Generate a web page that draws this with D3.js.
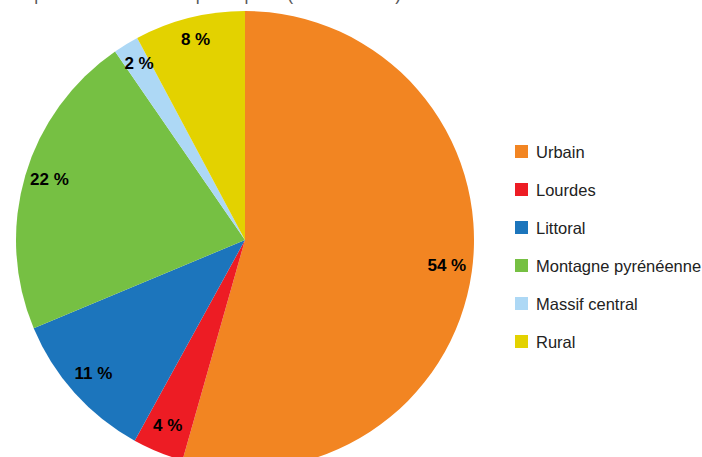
<!DOCTYPE html>
<html>
<head>
<meta charset="utf-8">
<script src="https://cdn.jsdelivr.net/npm/d3@7"></script>
<style>
  body { margin: 0; background: #fff; }
  svg { display: block; font-family: "Liberation Sans", Arial, sans-serif; }
</style>
</head>
<body>
<div id="chart"></div>
<script>
"use strict";

// data (share of total, %)
const categories = ["Urbain", "Lourdes", "Littoral", "Montagne pyrénéenne", "Massif central", "Rural"];
const values = [54.4, 3.6, 10.7, 21.7, 1.8, 7.8];
const colors = ["#f28522", "#ed1c24", "#1c75bc", "#76c043", "#add8f5", "#e3d200"];
const title = "Répartition des nuitées par espace (en % du total)";

const width = 702, height = 457;
const cx = 245, cy = 240, radius = 229;

const svg = d3.select("#chart").append("svg")
  .attr("width", width)
  .attr("height", height);

// title is mostly cropped off at the top of the picture
svg.append("text")
  .attr("x", 12)
  .attr("y", 0)
  .attr("fill", "#595959")
  .style("font-size", "17.5px")
  .text(title);

const data = categories.map((c, i) => ({ name: c, value: values[i], color: colors[i] }));

const pie = d3.pie().sort(null).value((d) => d.value);
const arc = d3.arc().innerRadius(0).outerRadius(radius);
const labelArc = d3.arc().innerRadius(radius * 0.89).outerRadius(radius * 0.89);

const g = svg.append("g").attr("transform", `translate(${cx},${cy})`);
const arcs = pie(data);

g.selectAll("path.slice")
  .data(arcs)
  .join("path")
  .attr("class", "slice")
  .attr("d", arc)
  .attr("fill", (d) => d.data.color);

g.selectAll("text.lbl")
  .data(arcs)
  .join("text")
  .attr("class", "lbl")
  .attr("transform", (d) => {
    let [x, y] = labelArc.centroid(d);
    return `translate(${x},${y - 3})`;
  })
  .attr("text-anchor", "middle")
  .attr("dy", "0.35em")
  .style("font-size", "17px")
  .style("font-weight", "bold")
  .attr("fill", "#000")
  .text((d) => Math.round(d.data.value) + " %");

// legend
const legend = svg.append("g").attr("transform", "translate(515,152)");
const rowH = 38;
const rows = legend.selectAll("g")
  .data(data)
  .join("g")
  .attr("transform", (d, i) => `translate(0,${i * rowH})`);

rows.append("rect")
  .attr("x", 0)
  .attr("y", -7)
  .attr("width", 13)
  .attr("height", 13)
  .attr("fill", (d) => d.color);

rows.append("text")
  .attr("x", 21)
  .attr("dy", "0.35em")
  .style("font-size", "16.5px")
  .attr("fill", "#222")
  .text((d) => d.name);
</script>
</body>
</html>
